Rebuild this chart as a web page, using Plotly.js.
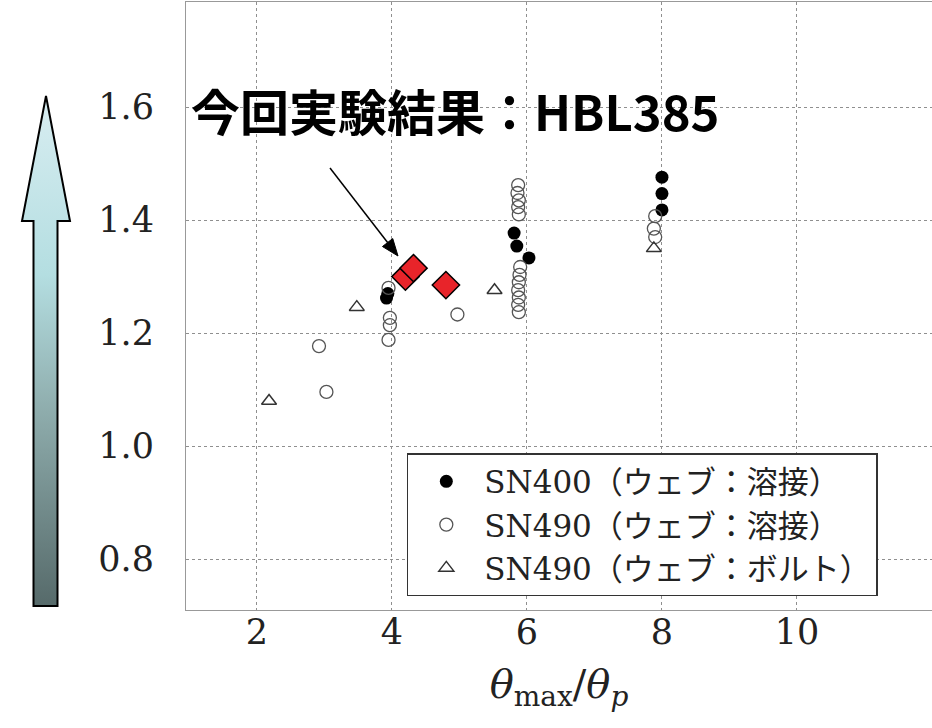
<!DOCTYPE html>
<html>
<head>
<meta charset="utf-8">
<script src="https://cdn.plot.ly/plotly-3.0.1.min.js"></script>
<style>html,body{margin:0;padding:0;background:#fff;}#chart{width:932px;height:728px;}</style>
</head>
<body>
<div id="chart"></div>
<script>
// ---- data ----
const sn400Name = 'SN400（ウェブ：溶接）';
const sn400X = [3.92, 3.94, 5.81, 5.85, 6.03, 8.0, 8.0, 8.0];
const sn400Y = [1.262, 1.27, 1.377, 1.354, 1.333, 1.476, 1.447, 1.418];

const sn490wName = 'SN490（ウェブ：溶接）';
const sn490wX = [2.92, 3.03, 3.95, 3.97, 3.97, 3.95,
                 4.97,
                 5.87, 5.86, 5.88, 5.87, 5.88, 5.9, 5.89, 5.88, 5.87, 5.88, 5.87, 5.88,
                 7.9, 7.88, 7.9];
const sn490wY = [1.177, 1.096, 1.28, 1.227, 1.214, 1.188,
                 1.233,
                 1.462, 1.448, 1.435, 1.423, 1.41, 1.317, 1.303, 1.29, 1.276, 1.263, 1.25, 1.237,
                 1.407, 1.385, 1.37];

const sn490bName = 'SN490（ウェブ：ボルト）';
const sn490bX = [2.18, 3.48, 5.52, 7.88];
const sn490bY = [1.08, 1.246, 1.276, 1.35];

const hblName = '今回実験結果：HBL385';
const hblX = [4.2, 4.32, 4.8];
const hblY = [1.3, 1.315, 1.285];

const xTicks = [2, 4, 6, 8, 10];
const yTicks = [0.8, 1.0, 1.2, 1.4, 1.6];
const yTickText = ['0.8', '1.0', '1.2', '1.4', '1.6'];

// ---- traces ----
const traces = [
  {x: sn400X, y: sn400Y, name: sn400Name, type: 'scatter', mode: 'markers',
   marker: {symbol: 'circle', size: 13, color: '#000'}},
  {x: sn490wX, y: sn490wY, name: sn490wName, type: 'scatter', mode: 'markers',
   marker: {symbol: 'circle-open', size: 13, color: '#555', line: {width: 1.3}}},
  {x: sn490bX, y: sn490bY, name: sn490bName, type: 'scatter', mode: 'markers',
   marker: {symbol: 'triangle-up-open', size: 13, color: '#333', line: {width: 1.5}}},
  {x: hblX, y: hblY, name: hblName, type: 'scatter', mode: 'markers', showlegend: false,
   marker: {symbol: 'diamond', size: 21, color: '#e8242a', line: {color: '#000', width: 1.5}}}
];

// ---- decorations (pixel geometry -> paper coords) ----
const M = {l: 186, r: 0, t: 2, b: 118};
const W = 932, H = 728;
const pw = W - M.l - M.r, ph = H - M.t - M.b;
const px = v => (v - M.l) / pw;
const py = v => (H - M.b - v) / ph;

// gradient arrow on the left, drawn as an svg image
const arrowSvg = "<svg xmlns='http://www.w3.org/2000/svg' viewBox='0 0 52 516' preserveAspectRatio='none'>" +
  "<defs><linearGradient id='g' x1='0' y1='0' x2='0' y2='1'>" +
  "<stop offset='0' stop-color='#d8edf1'/><stop offset='0.35' stop-color='#b4dee1'/>" +
  "<stop offset='0.62' stop-color='#8eacac'/><stop offset='1' stop-color='#566a6a'/>" +
  "</linearGradient></defs>" +
  "<path d='M26 3 L50 128 L37.5 128 L37.5 513 L13.5 513 L13.5 128 L2 128 Z' fill='url(#g)' stroke='#000' stroke-width='2'/></svg>";
const arrowSrc = 'data:image/svg+xml;charset=utf-8,' + encodeURIComponent(arrowSvg);

// pointer arrow from label to the red diamonds
const tail = [330, 168], tip = [398, 256];
const dx = tip[0] - tail[0], dy = tip[1] - tail[1], len = Math.hypot(dx, dy);
const ux = dx / len, uy = dy / len;
const headL = 17, headW = 6.5;
const bx = tip[0] - ux * headL, by = tip[1] - uy * headL;
const h1 = [bx - uy * headW, by + ux * headW], h2 = [bx + uy * headW, by - ux * headW];
const headPath = 'M ' + px(tip[0]) + ' ' + py(tip[1]) + ' L ' + px(h1[0]) + ' ' + py(h1[1]) +
                 ' L ' + px(h2[0]) + ' ' + py(h2[1]) + ' Z';

const axisFont = {family: 'DejaVu Serif, Liberation Serif, serif', size: 35, color: '#222'};

const layout = {
  width: W, height: H,
  margin: M,
  paper_bgcolor: '#fff', plot_bgcolor: '#fff',
  showlegend: true,
  xaxis: {
    range: [0.95, 12.0], tickvals: xTicks, ticktext: xTicks.map(String),
    tickfont: axisFont, ticks: '', ticklabelstandoff: -9,
    showgrid: true, gridcolor: '#8f8f8f', griddash: 'dot', gridwidth: 1,
    showline: true, mirror: true, linecolor: '#999', linewidth: 1, zeroline: false,
    title: {text: '<i>θ</i><sub>max</sub>/<i>θ</i><sub><i>p</i></sub>',
            font: {family: 'DejaVu Serif, Liberation Serif, serif', size: 40, color: '#222'}, standoff: 18}
  },
  yaxis: {
    range: [0.71, 1.786], tickvals: yTicks, ticktext: yTickText,
    tickfont: axisFont, ticks: 'outside', ticklen: 0, ticklabelstandoff: 24,
    showgrid: true, gridcolor: '#8f8f8f', griddash: 'dot', gridwidth: 1,
    showline: true, mirror: true, linecolor: '#999', linewidth: 1, zeroline: false
  },
  legend: {
    x: 0.296, y: 0.258, xanchor: 'left', yanchor: 'top',
    bgcolor: '#fff', bordercolor: '#333', borderwidth: 1.5,
    font: {family: 'DejaVu Serif, Noto Sans CJK JP, serif', size: 31, color: '#222'},
    itemwidth: 66, tracegroupgap: 0
  },
  annotations: [
    {x: 0.99, y: 1.595, xref: 'x', yref: 'y', xanchor: 'left', yanchor: 'middle',
     text: '<b>' + hblName + '</b>', showarrow: false,
     font: {family: 'Noto Sans CJK JP, sans-serif', size: 49, color: '#000'}}
  ],
  shapes: [
    {type: 'line', xref: 'paper', yref: 'paper', x0: px(tail[0]), y0: py(tail[1]),
     x1: px(bx), y1: py(by), line: {color: '#000', width: 1.5}},
    {type: 'path', xref: 'paper', yref: 'paper', path: headPath,
     fillcolor: '#000', line: {color: '#000', width: 1}}
  ],
  images: [
    {source: arrowSrc, xref: 'paper', yref: 'paper', x: px(20), y: py(93),
     sizex: 52 / pw, sizey: 516 / ph, xanchor: 'left', yanchor: 'top', sizing: 'stretch', layer: 'above'}
  ]
};

Plotly.newPlot('chart', traces, layout, {displayModeBar: false, staticPlot: true});
</script>
</body>
</html>
